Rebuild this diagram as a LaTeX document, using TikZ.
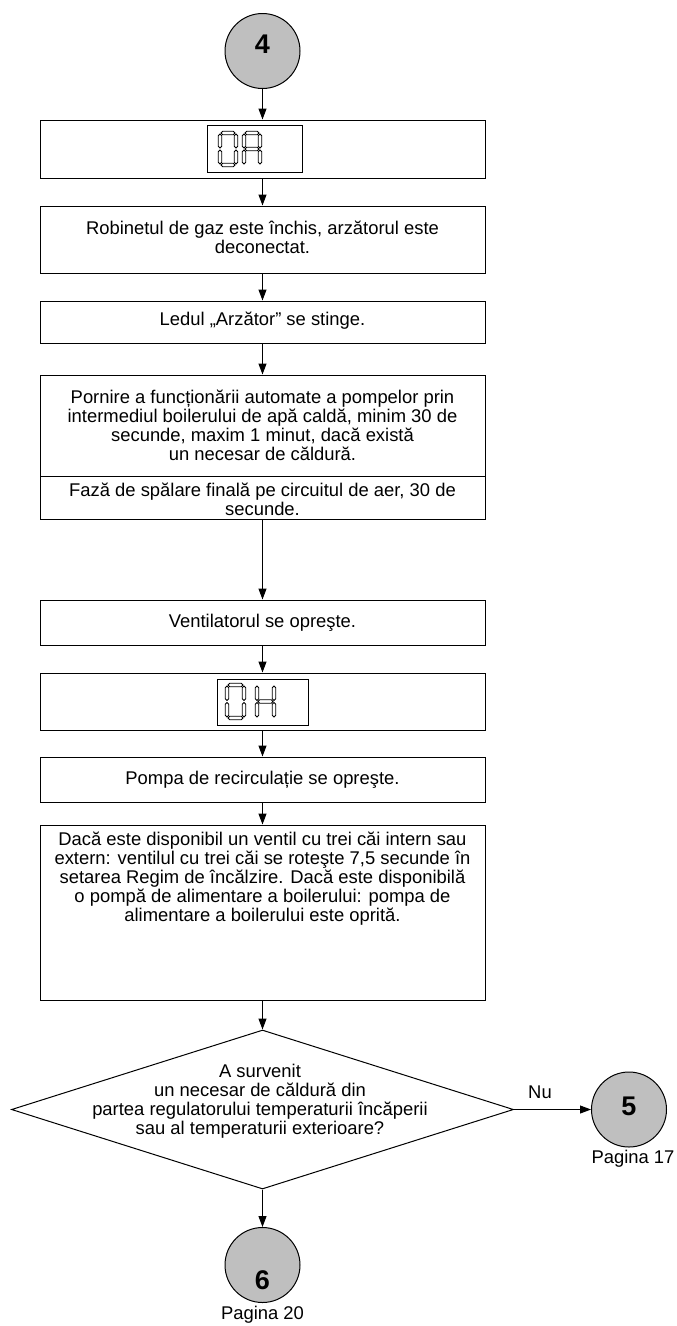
\documentclass[tikz,border=0pt]{standalone}
\usepackage{fontspec}
\setmainfont{Liberation Sans}
\usetikzlibrary{arrows.meta,shapes.geometric}

% one hollow segment of a seven-segment display
\newcommand{\hseg}[3]{\draw[seg] (#1,#3) -- (#1+1.8,#3-1.8) -- (#2-1.8,#3-1.8) -- (#2,#3) -- (#2-1.8,#3+1.8) -- (#1+1.8,#3+1.8) -- cycle;}
\newcommand{\vseg}[3]{\draw[seg] (#1,#2) -- (#1+1.8,#2+1.8) -- (#1+1.8,#3-1.8) -- (#1,#3) -- (#1-1.8,#3-1.8) -- (#1-1.8,#2+1.8) -- cycle;}

\tikzset{
  frame/.style={draw, line width=1pt, minimum width=445pt, inner sep=0pt},
  lbl/.style={inner sep=0pt, align=center, font=\fontsize{18.4}{19}\selectfont},
  conn/.style={line width=1pt, -{Triangle[length=11pt,width=8pt]}},
  connector/.style={draw, circle, fill=black!25, line width=1pt, minimum size=75pt, inner sep=0pt},
  bignum/.style={inner sep=0pt, font=\fontsize{27}{27}\selectfont\bfseries},
  lcd/.style={draw, line width=1pt, inner sep=0pt},
  seg/.style={line width=0.8pt, line join=miter},
}

\begin{document}
\begin{tikzpicture}[x=1pt,y=-1pt]
\useasboundingbox (0,0) rectangle (677,1326);

% entry connector
\node[connector] (c4) at (262.5,51) {};
\node[bignum] (n4) at (262.5,44) {4};

% display 0A
\node[frame, minimum height=58pt] (b1) at (262.5,149) {};
\node[lcd, minimum width=95pt, minimum height=47pt] (d1) at (254.5,148.5) {};
\hseg{221}{235}{133} \vseg{236}{134}{148} \vseg{236}{150}{164}
\hseg{221}{235}{165} \vseg{220}{150}{164} \vseg{220}{134}{148}
\hseg{245}{259}{133} \vseg{260}{134}{148} \vseg{260}{150}{164}
\vseg{244}{150}{164} \vseg{244}{134}{148} \hseg{245}{259}{149}

% steps
\node[frame, minimum height=67pt] (b2) at (262.5,239.5) {};
\node[lbl] (t2) at (262.5,237) {Robinetul de gaz este închis, arzătorul este\\deconectat.};

\node[frame, minimum height=42pt] (b3) at (262.5,322) {};
\node[lbl] (t3) at (262.5,321) {Ledul „Arzător” se stinge.};

\node[frame, minimum height=101pt] (b4a) at (262.5,425.5) {};
\node[lbl] (t4a) at (262.5,425) {Pornire a funcționării automate a pompelor prin\\intermediul boilerului de apă caldă, minim 30 de\\secunde, maxim 1 minut, dacă există\\un necesar de căldură.};
\node[frame, minimum height=43pt] (b4b) at (262.5,497.5) {};
\node[lbl] (t4b) at (262.5,499) {Fază de spălare finală pe circuitul de aer, 30 de\\secunde.};

\node[frame, minimum height=45pt] (b5) at (262.5,622.5) {};
\node[lbl] (t5) at (262.5,623) {Ventilatorul se opreşte.};

% display 0H
\node[frame, minimum height=57pt] (b6) at (262.5,701.5) {};
\node[lcd, minimum width=91pt, minimum height=46pt] (d2) at (262.5,702) {};
\hseg{228}{243}{685} \vseg{244}{686}{700.5} \vseg{244}{702.5}{717}
\hseg{228}{243}{718} \vseg{227}{702.5}{717} \vseg{227}{686}{700.5}
\vseg{274}{686}{700.5} \vseg{274}{702.5}{717}
\vseg{257}{702.5}{717} \vseg{257}{686}{700.5} \hseg{258}{273}{701.5}

\node[frame, minimum height=45pt] (b7) at (262.5,779.5) {};
\node[lbl] (t7) at (262.5,779.5) {Pompa de recirculație se opreşte.};

\node[frame, minimum height=175pt] (b8) at (262.5,912.5) {};
\node[lbl, anchor=north] (t8) at (262.5,832) {Dacă este disponibil un ventil cu trei căi intern sau\\extern: ventilul cu trei căi se roteşte 7,5 secunde în\\setarea Regim de încălzire. Dacă este disponibilă\\o pompă de alimentare a boilerului: pompa de\\alimentare a boilerului este oprită.};

% decision
\node[draw, diamond, line width=1pt, minimum width=502pt, minimum height=159pt, inner sep=0pt] (dia) at (262.5,1109.5) {};
\node[lbl] (td) at (260,1101) {A survenit\\un necesar de căldură din\\partea regulatorului temperaturii încăperii\\sau al temperaturii exterioare?};

% exit connectors
\node[connector] (c5) at (629,1109.5) {};
\node[bignum] (n5) at (629,1106) {5};
\node[lbl] (p5) at (633,1159) {Pagina 17};

\node[connector] (c6) at (262.5,1265) {};
\node[bignum] (n6) at (262.5,1280) {6};
\node[lbl] (p6) at (262.5,1315) {Pagina 20};

\node[lbl] (nu) at (540,1092) {Nu};

% flow
\draw[conn] (c4) -- (b1);
\draw[conn] (b1) -- (b2);
\draw[conn] (b2) -- (b3);
\draw[conn] (b3) -- (b4a);
\draw[conn] (b4b) -- (b5);
\draw[conn] (b5) -- (b6);
\draw[conn] (b6) -- (b7);
\draw[conn] (b7) -- (b8);
\draw[conn] (b8) -- (dia);
\draw[conn] (dia.east) -- (c5);
\draw[conn] (dia.south) -- (c6);
\end{tikzpicture}
\end{document}
